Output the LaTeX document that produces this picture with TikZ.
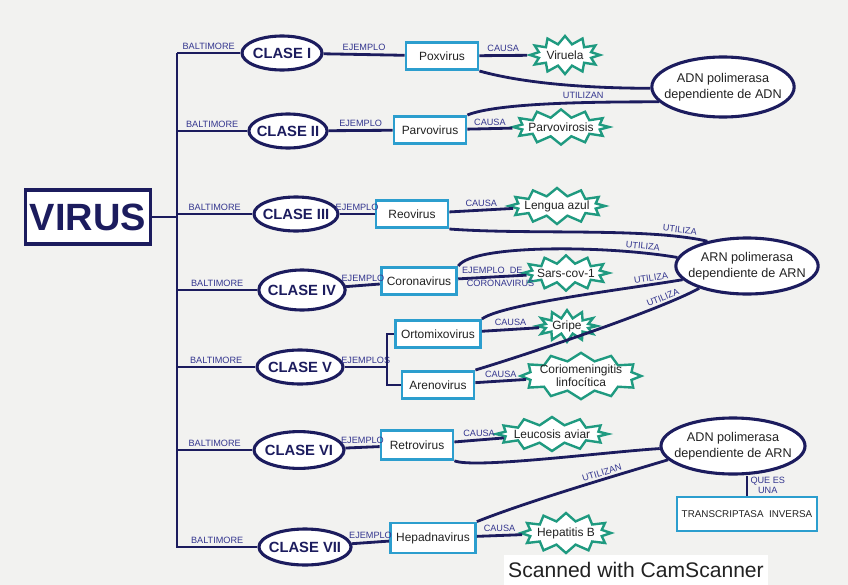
\documentclass[tikz,border=0pt]{standalone}
\usepackage{fontspec}
\setmainfont{Liberation Sans}
\usetikzlibrary{positioning, shapes.geometric, shapes.symbols}
\definecolor{navy}{HTML}{1C1C5E}
\definecolor{penblue}{HTML}{34368F}
\definecolor{cyanbox}{HTML}{2C9ECE}
\definecolor{mint}{HTML}{1F9A80}
\definecolor{paper}{HTML}{F2F2F0}
\definecolor{pencil}{HTML}{222222}

\tikzset{
  clase/.style={ellipse, draw=navy, line width=2.2pt, fill=white, text=navy,
    font=\bfseries\fontsize{10.5}{12}\selectfont, inner xsep=-2.5pt, inner ysep=0pt,
    minimum width=2.0cm, minimum height=0.85cm},
  ejemplo/.style={draw=cyanbox, line width=2pt, fill=white, text=pencil,
    font=\fontsize{8.5}{10}\selectfont, minimum width=1.8cm, minimum height=0.68cm,
    inner xsep=4pt},
  enfermedad/.style={starburst, starburst points=12, starburst point height=0.2cm,
    random starburst=0, draw=mint, line width=1.7pt, fill=white, text=pencil,
    align=center, font=\fontsize{8.5}{9}\selectfont, inner xsep=-3pt, inner ysep=0pt},
  enzima/.style={ellipse, draw=navy, line width=2.2pt, fill=white, text=pencil,
    align=center, font=\fontsize{9}{11}\selectfont, inner xsep=-6pt, inner ysep=0pt,
    minimum width=3.5cm, minimum height=1.4cm},
  enlace/.style={draw=navy, line width=2pt},
  rotulo/.style={font=\fontsize{6.5}{7}\selectfont, text=penblue, inner sep=1.5pt},
}

\begin{document}
\begin{tikzpicture}[x=0.025cm, y=-0.025cm]

% Papel
\fill[paper] (0,0) rectangle (848,585);
\useasboundingbox (0,0) rectangle (848,585);

% Raiz
\node[draw=navy, line width=2.4pt, fill=white, text=navy,
      font=\bfseries\fontsize{27}{28}\selectfont,
      minimum width=3.1cm, minimum height=1.35cm] (virus) at (88,217) {VIRUS};
\coordinate (spinetop) at (177,53);
\coordinate (spinebot) at (177,548);

% Clases de Baltimore
\node[clase] (c1) at (282,53) {CLASE I};
\node[clase, minimum width=1.95cm] (c2) at (288,131) {CLASE II};
\node[clase] (c3) at (296,214) {CLASE III};
\node[clase, minimum height=1.0cm] (c4) at (302,290) {CLASE IV};
\node[clase, minimum width=2.15cm] (c5) at (300,367) {CLASE V};
\node[clase, minimum width=2.25cm, minimum height=0.92cm] (c6) at (299,450) {CLASE VI};
\node[clase, minimum width=2.28cm, minimum height=0.9cm] (c7) at (305,547) {CLASE VII};

% Ejemplos de virus
\node[ejemplo] (pox) at (442,56) {Poxvirus};
\node[ejemplo] (parvo) at (430,130) {Parvovirus};
\node[ejemplo] (reo) at (412,214) {Reovirus};
\node[ejemplo] (corona) at (419,281) {Coronavirus};
\node[ejemplo] (orto) at (438,334) {Ortomixovirus};
\node[ejemplo] (aren) at (438,385) {Arenovirus};
\node[ejemplo, minimum height=0.72cm] (retro) at (417,445) {Retrovirus};
\node[ejemplo, minimum height=0.75cm] (hepad) at (433,538) {Hepadnavirus};

% Enfermedades
\node[enfermedad, minimum width=1.75cm, minimum height=0.95cm] (viruela) at (565,55) {Viruela};
\node[enfermedad, minimum width=2.15cm, minimum height=0.88cm] (parvosis) at (561,127) {Parvovirosis};
\node[enfermedad, minimum width=2.25cm, minimum height=0.9cm] (lengua) at (557,206) {Lengua azul};
\node[enfermedad, minimum width=1.95cm, minimum height=0.88cm] (sars) at (566,273) {Sars-cov-1};
\node[enfermedad, minimum width=1.5cm, minimum height=0.78cm] (gripe) at (567,326) {Gripe};
\node[enfermedad, minimum width=2.35cm, minimum height=1.05cm] (corio) at (581,376)
  {Coriomeningitis\\linfocítica};
\node[enfermedad, minimum width=2.25cm, minimum height=0.85cm] (leucosis) at (552,434) {Leucosis aviar};
\node[enfermedad, minimum width=2.25cm, minimum height=1.0cm] (hepatitis) at (566,533) {Hepatitis B};

% Enzimas
\node[enzima, minimum height=1.5cm] (adn1) at (723,87) {ADN polimerasa\\dependiente de ADN};
\node[enzima] (arn) at (747,266) {ARN polimerasa\\dependiente de ARN};
\node[enzima, minimum width=3.6cm] (adn2) at (733,446) {ADN polimerasa\\dependiente de ARN};
\node[draw=cyanbox, line width=2pt, fill=white, text=pencil,
      font=\fontsize{7}{8}\selectfont, minimum width=3.25cm, minimum height=0.85cm]
  (trans) at (747,514) {TRANSCRIPTASA\ \ INVERSA};

% Tronco
\draw[enlace] (spinetop) -- (spinebot);
\draw[enlace] (virus) -- (virus -| spinetop);
\foreach \i in {1,...,7}
  \draw[enlace] (spinetop |- c\i) -- (c\i) node[midway, above, rotulo] {BALTIMORE};

% Clase -> virus
\draw[enlace] (c1) -- (pox) node[midway, above, rotulo] {EJEMPLO};
\draw[enlace] (c2) -- (parvo) node[midway, above, rotulo] {EJEMPLO};
\draw[enlace] (c3) -- (reo) node[midway, above, rotulo] {EJEMPLO};
\draw[enlace] (c4) -- (corona) node[midway, above, rotulo] {EJEMPLO};
\coordinate (brk) at (387,367);
\draw[enlace] (c5) -- (brk) node[midway, above, rotulo] {EJEMPLOS};
\draw[enlace] (orto.west) -- (orto.west -| brk) -- (aren.west -| brk) -- (aren.west);
\draw[enlace] (c6) -- (retro) node[midway, above, rotulo] {EJEMPLO};
\draw[enlace] (c7) -- (hepad) node[midway, above, rotulo] {EJEMPLO};

% Virus -> enfermedad
\draw[enlace] (pox) -- (viruela) node[midway, above, rotulo] {CAUSA};
\draw[enlace] (parvo) -- (parvosis) node[midway, above, rotulo] {CAUSA};
\draw[enlace] (reo) -- (lengua) node[midway, above, rotulo] {CAUSA};
\draw[enlace] (corona) -- (sars)
  node[midway, above, rotulo] {EJEMPLO\ \ DE}
  node[pos=0.62, below, rotulo] {CORONAVIRUS};
\draw[enlace] (orto) -- (gripe) node[midway, above, rotulo] {CAUSA};
\draw[enlace] (aren) -- (corio) node[midway, above, rotulo] {CAUSA};
\draw[enlace] (retro) -- (leucosis) node[midway, above, rotulo] {CAUSA};
\draw[enlace] (hepad) -- (hepatitis) node[midway, above, rotulo] {CAUSA};

% Virus -> enzimas
\draw[enlace] (pox.south east) .. controls +(50,14) and +(-50,0) .. (adn1.181);
\draw[enlace] (parvo.north east) .. controls +(30,-12) and +(-70,0) .. (adn1.193)
  node[pos=0.66, above=0.5pt, rotulo] {UTILIZAN};
\draw[enlace] (reo.south east) .. controls +(80,6) and +(-60,-14) .. (arn.148)
  node[pos=0.86, above, sloped, rotulo] {UTILIZA};
\draw[enlace] (corona.north east) .. controls +(15,-22) and +(-70,-12) .. (arn.173)
  node[pos=0.85, above, sloped, rotulo] {UTILIZA};
\draw[enlace] (orto.north east) .. controls +(20,-15) and +(-60,10) .. (arn.192)
  node[pos=0.85, above, sloped, rotulo] {UTILIZA};
\draw[enlace] (aren.north east) .. controls +(50,-15) and +(-40,22) .. (arn.205)
  node[pos=0.8, above, sloped, rotulo] {UTILIZA};
\draw[enlace] (retro.south east) .. controls +(20,8) and +(-60,4) .. (adn2.182);
\draw[enlace] (hepad.north east) .. controls +(50,-20) and +(-50,15) .. (adn2.192)
  node[pos=0.65, above, sloped, rotulo] {UTILIZAN};
\draw[enlace] (trans.north) -- (trans.north |- adn2.south)
  node[midway, right, rotulo, align=center] {QUE ES\\UNA};

% Marca del escaner
\node[fill=white, text=pencil, font=\fontsize{15}{16}\selectfont,
      minimum width=6.43cm, minimum height=0.75cm] (camscan) at (636,570)
  {Scanned with CamScanner};

\end{tikzpicture}
\end{document}
